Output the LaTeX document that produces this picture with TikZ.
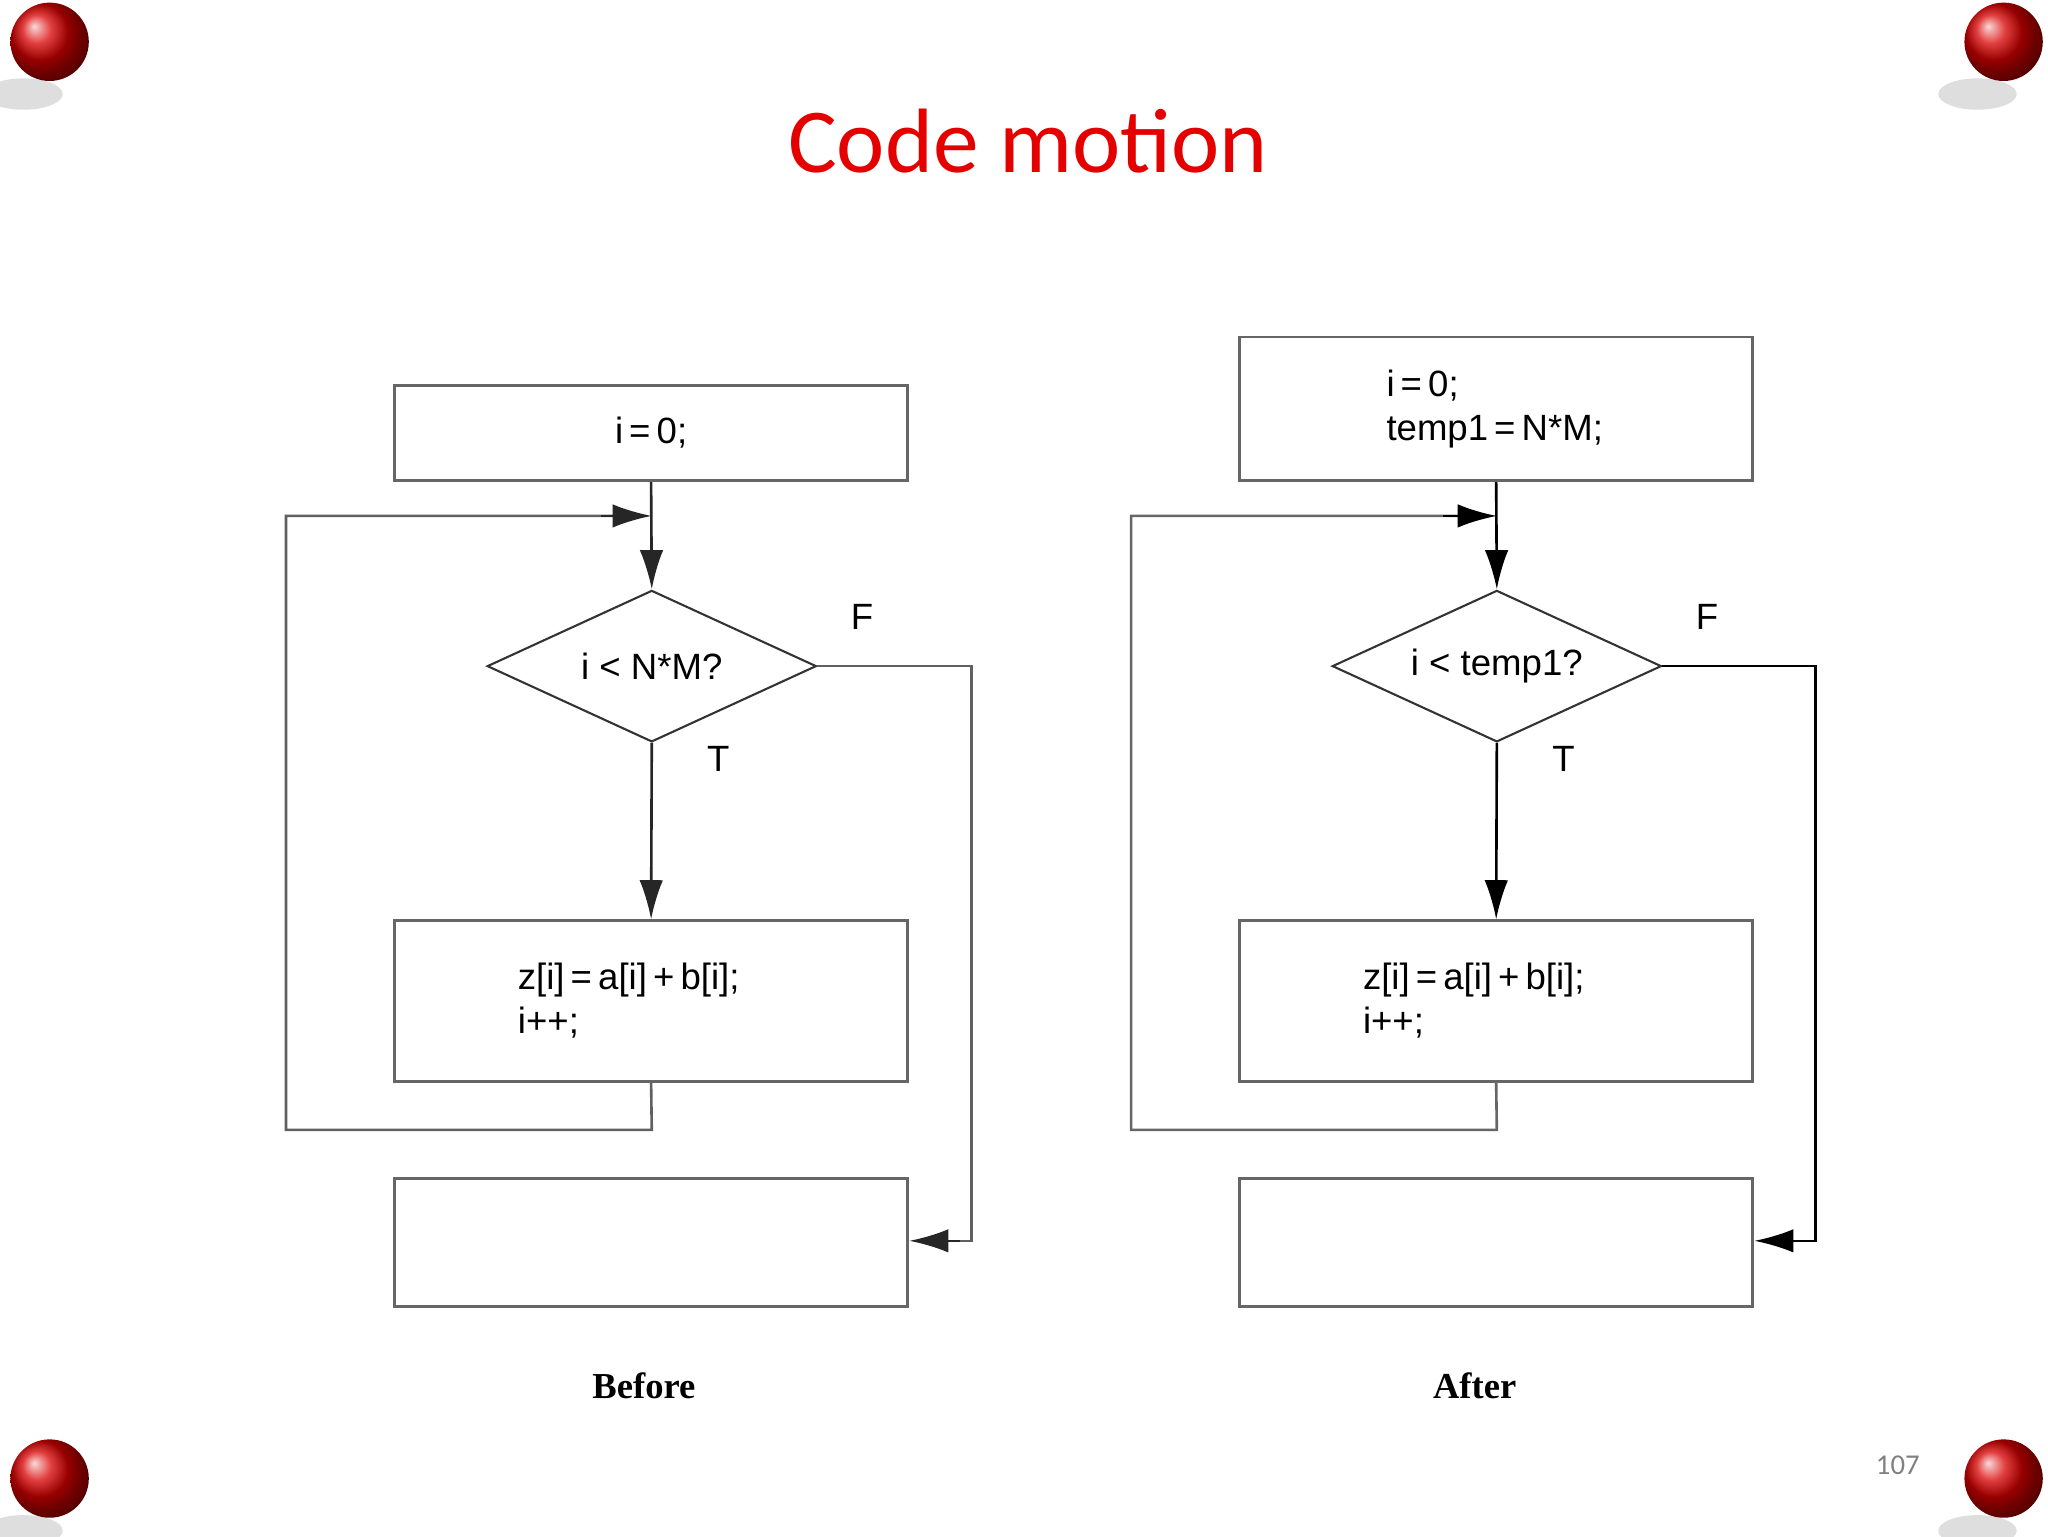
\documentclass[tikz,border=0pt]{standalone}
\usepackage{fontspec}
\setmainfont{Liberation Sans}
\newfontfamily\titlefont{Carlito}
\newfontfamily\capfont{Liberation Serif}
\usetikzlibrary{arrows.meta,shapes.geometric}
\begin{document}
\begin{tikzpicture}[x=1pt,y=-1pt,
  box/.style={draw=gray!80!black,line width=2.2pt,inner sep=0pt},
  cond/.style={draw=black!80,line width=1.6pt,diamond,aspect=2.17,minimum width=252pt,minimum height=116pt,inner sep=0pt},
  txt/.style={font=\fontsize{28}{34}\selectfont,align=left},
  lbl/.style={font=\fontsize{28}{34}\selectfont},
  conn/.style={line width=2pt},
  arr/.style={conn,-{Latex[length=30pt,width=18pt]}},
  pin/.style={ball color=red!85!black,draw=none}]
\useasboundingbox (0,0) rectangle (1568,1176);
\fill[white] (0,0) rectangle (1568,1176);
% pins
\foreach \n/\x/\y in {p1/38/32,p2/1534/32,p3/38/1132,p4/1534/1132}{
  \fill[black!25,opacity=0.5] (\x-20,\y+40) ellipse (30 and 12);
  \shade[pin] (\x,\y) circle (30);
}
\node[font=\titlefont\fontsize{70}{74}\selectfont,text=red!90!black] (title) at (787,108) {Code motion};
\node[font=\titlefont\fontsize{22}{26}\selectfont,text=gray] (pg) at (1453,1122) {107};
% ---- Before
\node[box,minimum width=393pt,minimum height=73pt] (a1) at (498.5,331.5) {};
\node[txt] at (a1) {i\,=\,0;};
\node[cond,draw=gray!40!black] (ad) at (499,510) {};
\node[txt] at (ad) {i < N*M?};
\node[box,minimum width=393pt,minimum height=123pt] (a2) at (498.5,766.5) {};
\node[txt,anchor=west] at (393,766) {z[i]\,=\,a[i]\,+\,b[i];\\i++;};
\node[box,minimum width=393pt,minimum height=98pt] (a3) at (498.5,951) {};
\coordinate (aj) at (499,395);
\draw[arr,draw=gray!30!black] (a1.south) -- (ad.north);
\draw[arr,draw=gray!30!black] (ad.south) -- (a2.north);
\draw[conn,draw=gray!75!black] (a2.south) -- (499,865) -- (219,865) -- (219,395) -- (470,395);
\draw[arr,draw=gray!30!black] (460,395) -- (aj);
\draw[conn,draw=gray!75!black] (ad.east) -- (744,510) -- (744,950) -- (730,950);
\draw[arr,draw=gray!30!black] (735,950) -- (a3.east|-0,950);
\node[lbl] at (660,472) {F};
\node[lbl] at (550,581) {T};
\node[font=\capfont\bfseries\fontsize{28}{32}\selectfont] (bl) at (493,1061) {Before};
% ---- After
\node[box,minimum width=393pt,minimum height=110pt] (b1) at (1145.5,313) {};
\node[txt,anchor=west] at (1058,313) {i\,=\,0;\\temp1\,=\,N*M;};
\node[cond] (bd) at (1146,510) {};
\node[txt] at (bd) {i < temp1?};
\node[box,minimum width=393pt,minimum height=123pt] (b2) at (1145.5,766.5) {};
\node[txt,anchor=west] at (1040,766) {z[i]\,=\,a[i]\,+\,b[i];\\i++;};
\node[box,minimum width=393pt,minimum height=98pt] (b3) at (1145.5,951) {};
\coordinate (bj) at (1146,395);
\draw[arr] (b1.south) -- (bd.north);
\draw[arr] (bd.south) -- (b2.north);
\draw[conn,draw=gray!80!black] (b2.south) -- (1146,865) -- (866,865) -- (866,395) -- (1120,395);
\draw[arr] (1105,395) -- (bj);
\draw[conn] (bd.east) -- (1390,510) -- (1390,950) -- (1375,950);
\draw[arr] (1380,950) -- (b3.east|-0,950);
\node[lbl] at (1307,472) {F};
\node[lbl] at (1197,581) {T};
\node[font=\capfont\bfseries\fontsize{28}{32}\selectfont] (al) at (1129,1061) {After};
\end{tikzpicture}
\end{document}
